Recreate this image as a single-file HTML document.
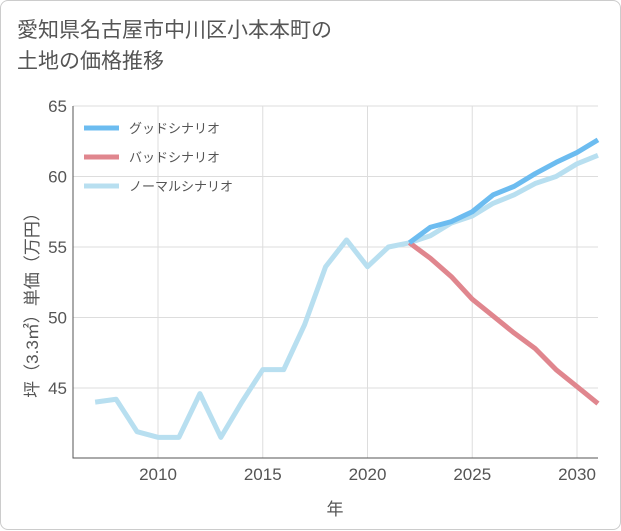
<!DOCTYPE html>
<html><head><meta charset="utf-8"><style>
body{margin:0;background:#fff;font-family:"Liberation Sans","Noto Sans CJK JP",sans-serif;}
#card{position:absolute;left:0;top:0;width:619px;height:528px;border:1px solid #ccc;border-radius:8px;background:#fff;}
#title{position:absolute;left:16px;top:14px;font-size:21px;line-height:31px;color:#555;}
</style></head><body>
<div id="card">
<div id="title">愛知県名古屋市中川区小本本町の<br>土地の価格推移</div>
<svg id="chart" width="621" height="530" style="position:absolute;left:0;top:0"></svg>
</div>
<script>
const years=[2007,2008,2009,2010,2011,2012,2013,2014,2015,2016,2017,2018,2019,2020,2021,2022,2023,2024,2025,2026,2027,2028,2029,2030,2031];
const normalVals=[44.0,44.2,41.9,41.5,41.5,44.6,41.5,44.0,46.3,46.3,49.5,53.6,55.5,53.6,55.0,55.3,55.8,56.7,57.2,58.1,58.7,59.5,60.0,60.9,61.5];
const goodYears=[2022,2023,2024,2025,2026,2027,2028,2029,2030,2031];
const goodVals=[55.3,56.4,56.8,57.5,58.7,59.3,60.2,61.0,61.7,62.6];
const badVals=[55.3,54.2,52.9,51.3,50.1,48.9,47.8,46.3,45.1,43.9];
const yTicks=[45,50,55,60,65];
const xTicks=[2010,2015,2020,2025,2030];
const legendLabels=["グッドシナリオ","バッドシナリオ","ノーマルシナリオ"];
const colors=["#6cbcf0","#e0868e","#b8dff0"];
const L=72,R=597,T=105,B=457;
const x=v=>157+(v-2010)*(576-157)/20;
const y=v=>105+(65-v)*(387-105)/20;
const svg=document.getElementById('chart');
const NS='http://www.w3.org/2000/svg';
function mk(tag,attrs,parent){const e=document.createElementNS(NS,tag);for(const k in attrs)e.setAttribute(k,attrs[k]);(parent||svg).appendChild(e);return e;}
for(const t of yTicks){
 const g=mk('line',{x1:L,x2:R,y1:y(t),y2:y(t),stroke:'#ddd','stroke-width':1});
 
 
 const tx=mk('text',{x:L-6,y:y(t)+6,'text-anchor':'end','font-size':17,fill:'#555'});
 tx.textContent=t;
 
 
}
for(const t of xTicks){
 const g=mk('line',{x1:x(t),x2:x(t),y1:T,y2:B,stroke:'#ddd','stroke-width':1});
 
 
 const tx=mk('text',{x:x(t),y:B+22,'text-anchor':'middle','font-size':17,fill:'#555'});
 tx.textContent=t;
 
 
}
const ax=mk('path',{d:`M${L},${T}V${B}H${R}`,fill:'none',stroke:'#555','stroke-width':1});


function line(xs,vs,c,name){
 const p=mk('polyline',{points:xs.map((v,i)=>x(v)+','+y(vs[i])).join(' '),fill:'none',stroke:c,'stroke-width':5,'stroke-linejoin':'round'});
 
 
}
line(years,normalVals,colors[2],'normal-scenario-line');
line(goodYears,badVals,colors[1],'bad-scenario-line');
line(goodYears,goodVals,colors[0],'good-scenario-line');
legendLabels.forEach((lab,i)=>{
 const yy=127+i*29;
 const l=mk('line',{x1:83,x2:118,y1:yy,y2:yy,stroke:colors[i],'stroke-width':5});
 
 
 const t=mk('text',{x:128,y:yy+5,'font-size':13,fill:'#555'});
 t.textContent=lab;
 
 
});
const xt=mk('text',{x:334,y:514,'text-anchor':'middle','font-size':17,fill:'#555'});
xt.textContent='年';


const yt=mk('text',{x:0,y:0,'text-anchor':'middle','font-size':17,fill:'#555',transform:'translate(37,300) rotate(-90)'});
yt.textContent='坪（3.3㎡）単価（万円）';


</script>
</body></html>
